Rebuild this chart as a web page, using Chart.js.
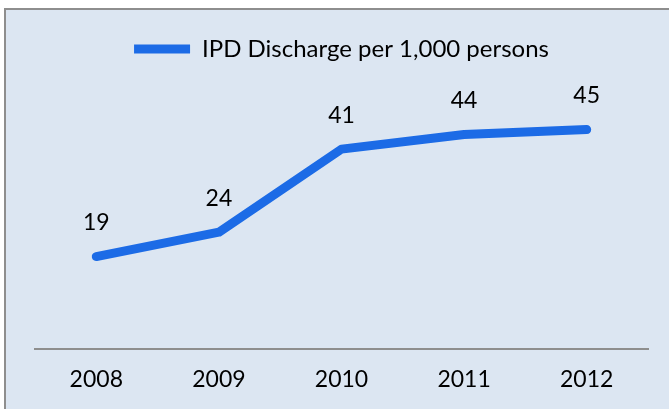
<!DOCTYPE html>
<html>
<head>
<meta charset="utf-8">
<script src="https://cdn.jsdelivr.net/npm/chart.js@4.4.0/dist/chart.umd.min.js"></script>
<style>
  html, body { margin: 0; padding: 0; background: #ffffff; }
  #wrap { width: 669px; height: 409px; }
</style>
</head>
<body>
<div id="wrap"><canvas id="chart" width="669" height="409"></canvas></div>
<script>
const years = ["2008", "2009", "2010", "2011", "2012"];
const discharges = [19, 24, 41, 44, 45];
const seriesName = "IPD Discharge per 1,000 persons";

const fontFam = "Lato, 'Noto Sans', sans-serif";

// panel background + border like the spreadsheet chart area
const panelBg = {
    id: "panelBg",
    beforeDraw(chart)
    {
        const ctx = chart.ctx;
        ctx.save();
        ctx.fillStyle = "#ffffff";
        ctx.fillRect(0, 0, chart.width, chart.height);
        ctx.fillStyle = "#dce6f2";
        ctx.fillRect(5, 9, chart.width, chart.height);
        ctx.strokeStyle = "#8e8e8e";
        ctx.lineWidth = 2;
        ctx.strokeRect(5, 9, chart.width + 10, chart.height + 10);
        ctx.restore();
    }
};

// value labels above each point
const valueLabels = {
    id: "valueLabels",
    afterDatasetsDraw(chart)
    {
        const ctx = chart.ctx;
        const meta = chart.getDatasetMeta(0);
        ctx.save();
        ctx.fillStyle = "#000000";
        ctx.font = "23px " + fontFam;
        ctx.textAlign = "center";
        ctx.textBaseline = "middle";
        meta.data.forEach((pt, i) => {
            ctx.fillText(String(discharges[i]), pt.x, pt.y - 34);
        });
        ctx.restore();
    }
};

new Chart(document.getElementById("chart").getContext("2d"),
{
    type: "line",
    data:
    {
        labels: years,
        datasets:
        [{
            label: seriesName,
            data: discharges,
            borderColor: "#1c6be6",
            backgroundColor: "#1c6be6",
            borderWidth: 9,
            borderCapStyle: "round",
            borderJoinStyle: "round",
            pointRadius: 0,
            pointHoverRadius: 0,
            tension: 0,
            fill: false
        }]
    },
    options:
    {
        responsive: false,
        animation: false,
        layout: { padding: { left: 35, right: 21, top: 15, bottom: 0 } },
        plugins:
        {
            legend:
            {
                display: true,
                position: "top",
                labels:
                {
                    usePointStyle: true,
                    pointStyle: "line",
                    pointStyleWidth: 56,
                    color: "#000000",
                    font: { size: 24, family: fontFam },
                    padding: 22
                }
            },
            tooltip: { enabled: false }
        },
        scales:
        {
            x:
            {
                offset: true,
                grid: { display: false, drawTicks: false },
                border: { display: true, color: "#8e8e8e", width: 2 },
                ticks: { color: "#000000", font: { size: 23, family: fontFam }, padding: 16 }
            },
            y:
            {
                display: false,
                min: 0,
                max: 57
            }
        }
    },
    plugins: [panelBg, valueLabels]
});
</script>
</body>
</html>
